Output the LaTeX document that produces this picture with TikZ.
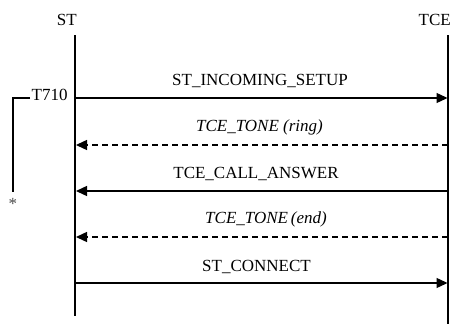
\documentclass[tikz,border=0pt]{standalone}
\usepackage{fontspec}
\setmainfont{Liberation Serif}
\usetikzlibrary{arrows.meta}

\begin{document}
\begin{tikzpicture}[x=1pt,y=-1pt,
    every node/.style={font=\fontsize{17}{20}\selectfont, inner sep=0pt},
    lifeline/.style={line width=2pt},
    msg/.style={line width=1.4pt, -{Triangle[length=11pt,width=10pt]}},
    reply/.style={msg, dash pattern=on 5.5pt off 4.5pt},
    msglabel/.style={anchor=base},
    timerline/.style={line width=2pt}]
  \useasboundingbox (0,0) rectangle (450,324);

  % entity headings
  \node[anchor=base east] (stname) at (77,25) {ST};
  \node[anchor=base east] (tcename) at (451,25) {TCE};

  % lifelines
  \coordinate (st-top) at (75.3,35);
  \coordinate (st-bot) at (75.3,316);
  \coordinate (tce-top) at (448.3,35);
  \coordinate (tce-bot) at (448.3,324);
  \draw[lifeline] (st-top) -- (st-bot);
  \draw[lifeline] (tce-top) -- (tce-bot);

  % message anchor points on the lifelines
  \foreach \i/\y in {1/98, 2/145, 3/191, 4/237, 5/283} {
    \coordinate (s\i) at (76,\y);
    \coordinate (t\i) at (447.5,\y);
  }

  % messages
  \draw[msg] (s1) -- (t1);
  \node[msglabel] (m1) at (260,85.5) {ST\_INCOMING\_SETUP};

  \draw[reply] (t2) -- (s2);
  \node[msglabel] (m2) at (259.5,131) {\textit{TCE\_TONE (ring)}};

  \draw[msg] (t3) -- (s3);
  \node[msglabel] (m3) at (256,178) {TCE\_CALL\_ANSWER};

  \draw[reply] (t4) -- (s4);
  \node[msglabel] (m4) at (266,223.5) {\textit{TCE\_TONE\,(end)}};

  \draw[msg] (s5) -- (t5);
  \node[msglabel] (m5) at (256.5,271) {ST\_CONNECT};

  % timer T710
  \node[anchor=base west] (timer) at (31.5,100) {T710};
  \coordinate (tA) at (30,98);
  \coordinate (tB) at (13,98);
  \coordinate (tC) at (13,192);
  \draw[timerline] (tA) -- (tB) -- (tC);
  \node[anchor=base, text=black!70] (star) at (13,209) {*};
\end{tikzpicture}
\end{document}
